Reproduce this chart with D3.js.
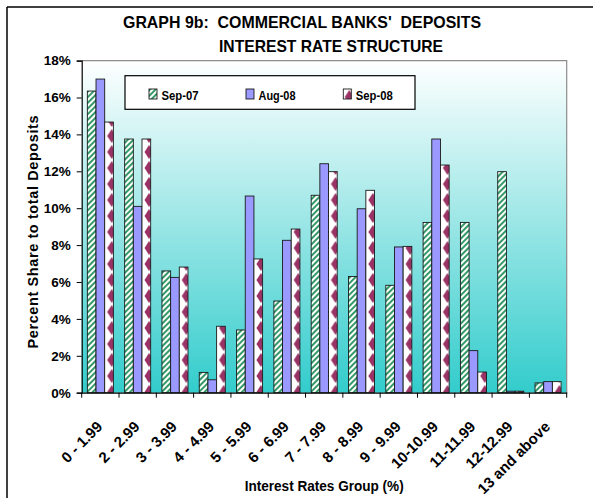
<!DOCTYPE html>
<html>
<head>
<meta charset="utf-8">
<script src="https://cdn.jsdelivr.net/npm/d3@7"></script>
<style>
  html, body { margin: 0; padding: 0; background: #fff; }
  svg { display: block; font-family: "Liberation Sans", Arial, sans-serif; }
</style>
</head>
<body>
<svg id="chart" width="593" height="498"></svg>
<script>
const categories = ["0 - 1.99","2 - 2.99","3 - 3.99","4 - 4.99","5 - 5.99","6 - 6.99","7 - 7.99","8 - 8.99","9 - 9.99","10-10.99","11-11.99","12-12.99","13 and above"];
const seriesNames = ["Sep-07","Aug-08","Sep-08"];
const sep07 = [16.35, 13.75, 6.6, 1.1, 3.4, 4.97, 10.7, 6.3, 5.82, 9.23, 9.23, 11.98, 0.53];
const aug08 = [17.0, 10.1, 6.25, 0.7, 10.66, 8.26, 12.41, 9.97, 7.9, 13.75, 2.28, 0.08, 0.6];
const sep08 = [14.67, 13.75, 6.81, 3.6, 7.25, 8.87, 11.98, 10.97, 7.93, 12.34, 1.12, 0.08, 0.6];
const yTicks = [0, 2, 4, 6, 8, 10, 12, 14, 16, 18];
const titleLines = ["GRAPH 9b:  COMMERCIAL BANKS'  DEPOSITS", "INTEREST RATE STRUCTURE"];
const yTitle = "Percent Share to total Deposits";
const xTitle = "Interest Rates Group (%)";

const seriesValues = [sep07, aug08, sep08];
const data = categories.map((c, i) => ({cat: c, vals: seriesNames.map((s, j) => ({s, v: seriesValues[j][i]}))}));

const svg = d3.select("#chart");
const defs = svg.append("defs");

// background gradient
const grad = defs.append("linearGradient").attr("id", "bg").attr("x1", 0).attr("y1", 0).attr("x2", 0).attr("y2", 1);
grad.append("stop").attr("offset", "0%").attr("stop-color", "#ffffff");
grad.append("stop").attr("offset", "100%").attr("stop-color", "#33cccc");

// green stripes
const pG = defs.append("pattern").attr("id", "stripes").attr("patternUnits", "userSpaceOnUse")
  .attr("width", 4).attr("height", 4).attr("patternTransform", "rotate(45)");
pG.append("rect").attr("width", 4).attr("height", 4).attr("fill", "#ffffff");
pG.append("rect").attr("width", 2).attr("height", 4).attr("fill", "#339966");

// maroon diamonds
const pD = defs.append("pattern").attr("id", "diamonds").attr("patternUnits", "userSpaceOnUse")
  .attr("width", 12).attr("height", 16);
pD.append("rect").attr("width", 12).attr("height", 16).attr("fill", "#ffffff");
pD.append("polygon").attr("points", "6,1 10.5,8 6,15 1.5,8").attr("fill", "#993366");

const fills = {"Sep-07": "url(#stripes)", "Aug-08": "#9999ff", "Sep-08": "url(#diamonds)"};

// outer frame
svg.append("line").attr("x1", 7).attr("y1", 7).attr("x2", 593).attr("y2", 7).attr("stroke", "#000").attr("stroke-width", 1.5);
svg.append("line").attr("x1", 7).attr("y1", 7).attr("x2", 7).attr("y2", 498).attr("stroke", "#000").attr("stroke-width", 1.5);

const L = 81.7, R = 566.7, T = 60.6, B = 392.7;
const x = d3.scaleBand().domain(categories).range([L, R]).paddingInner(0).paddingOuter(0);
const xs = d3.scaleBand().domain(seriesNames).range([0, x.bandwidth()]).paddingInner(0).paddingOuter(0.65);
const y = d3.scaleLinear().domain([0, 18]).range([B, T]);

// plot area
svg.append("rect").attr("x", L).attr("y", T).attr("width", R - L).attr("height", B - T).attr("fill", "url(#bg)");
svg.append("path").attr("d", `M${L},${T}H${R}V${B}`).attr("fill", "none").attr("stroke", "#8c8c8c").attr("stroke-width", 1.2);

// bars
const g = svg.append("g");
const groups = g.selectAll("g.grp").data(data).join("g").attr("class", "grp").attr("transform", d => `translate(${x(d.cat)},0)`);
groups.selectAll("rect").data(d => d.vals).join("rect")
  .attr("x", d => xs(d.s)).attr("width", xs.bandwidth())
  .attr("y", d => y(d.v)).attr("height", d => B - y(d.v))
  .attr("fill", d => fills[d.s]).attr("stroke", "#1a1a1a").attr("stroke-width", 0.9);

// y axis
const yAxis = d3.axisLeft(y).tickValues(yTicks).tickFormat(d => d + "%").tickSize(5).tickPadding(6);
const ya = svg.append("g").attr("transform", `translate(${L},0)`).call(yAxis);
ya.selectAll("text").attr("font-size", 13.5).attr("font-weight", "bold").attr("fill", "#000").attr("font-family", "Liberation Sans, Arial, sans-serif");
ya.select(".domain").attr("stroke", "#000").attr("stroke-width", 1.2);
ya.selectAll(".tick line").attr("stroke", "#000");

// x axis
const xAxis = d3.axisBottom(x).tickSize(0).tickFormat("");
const xa = svg.append("g").attr("transform", `translate(0,${B})`).call(xAxis);
xa.select(".domain").attr("stroke", "#000").attr("stroke-width", 1.2);
const bounds = categories.map(c => x(c)).concat([x(categories[categories.length - 1]) + x.step()]);
xa.selectAll("line.bt").data(bounds).join("line").attr("class", "bt")
  .attr("x1", d => d).attr("x2", d => d).attr("y1", 0).attr("y2", 5).attr("stroke", "#000");

svg.append("g").selectAll("text").data(categories).join("text")
  .attr("transform", d => `translate(${x(d) + x.bandwidth() / 2 + 3},${B + 35}) rotate(-45)`)
  .attr("text-anchor", "end").attr("font-size", 15).attr("font-weight", "bold")
  .text(d => d);

// titles
svg.append("text").attr("x", 123).attr("y", 28).attr("font-size", 16.5).attr("font-weight", "bold")
  .attr("textLength", 358).attr("lengthAdjust", "spacingAndGlyphs").style("white-space", "pre").text(titleLines[0]);
svg.append("text").attr("x", 219).attr("y", 52).attr("font-size", 16.5).attr("font-weight", "bold")
  .attr("textLength", 224).attr("lengthAdjust", "spacingAndGlyphs").text(titleLines[1]);

svg.append("text").attr("transform", `translate(37.5,${(T + B) / 2 + 5}) rotate(-90)`).attr("text-anchor", "middle")
  .attr("font-size", 14.5).attr("font-weight", "bold").attr("letter-spacing", 0.6).text(yTitle);

svg.append("text").attr("x", (L + R) / 2).attr("y", 491).attr("text-anchor", "middle")
  .attr("font-size", 14).attr("font-weight", "bold").attr("textLength", 159).attr("lengthAdjust", "spacingAndGlyphs").text(xTitle);

// legend
const lg = svg.append("g");
lg.append("rect").attr("x", 125).attr("y", 75.7).attr("width", 290).attr("height", 33.6).attr("fill", "#fff").attr("stroke", "#000").attr("stroke-width", 1.2);
const legX = [149, 246, 343.3];
const li = lg.selectAll("g.li").data(seriesNames).join("g").attr("class", "li").attr("transform", (d, i) => `translate(${legX[i]},89)`);
li.append("rect").attr("width", 8).attr("height", 10).attr("fill", d => fills[d]).attr("stroke", "#1a1a1a").attr("stroke-width", 0.9);
li.append("text").attr("x", 12.5).attr("y", 10.8).attr("font-size", 13.5).attr("font-weight", "bold")
  .attr("textLength", 37).attr("lengthAdjust", "spacingAndGlyphs").text(d => d);
</script>
</body>
</html>
